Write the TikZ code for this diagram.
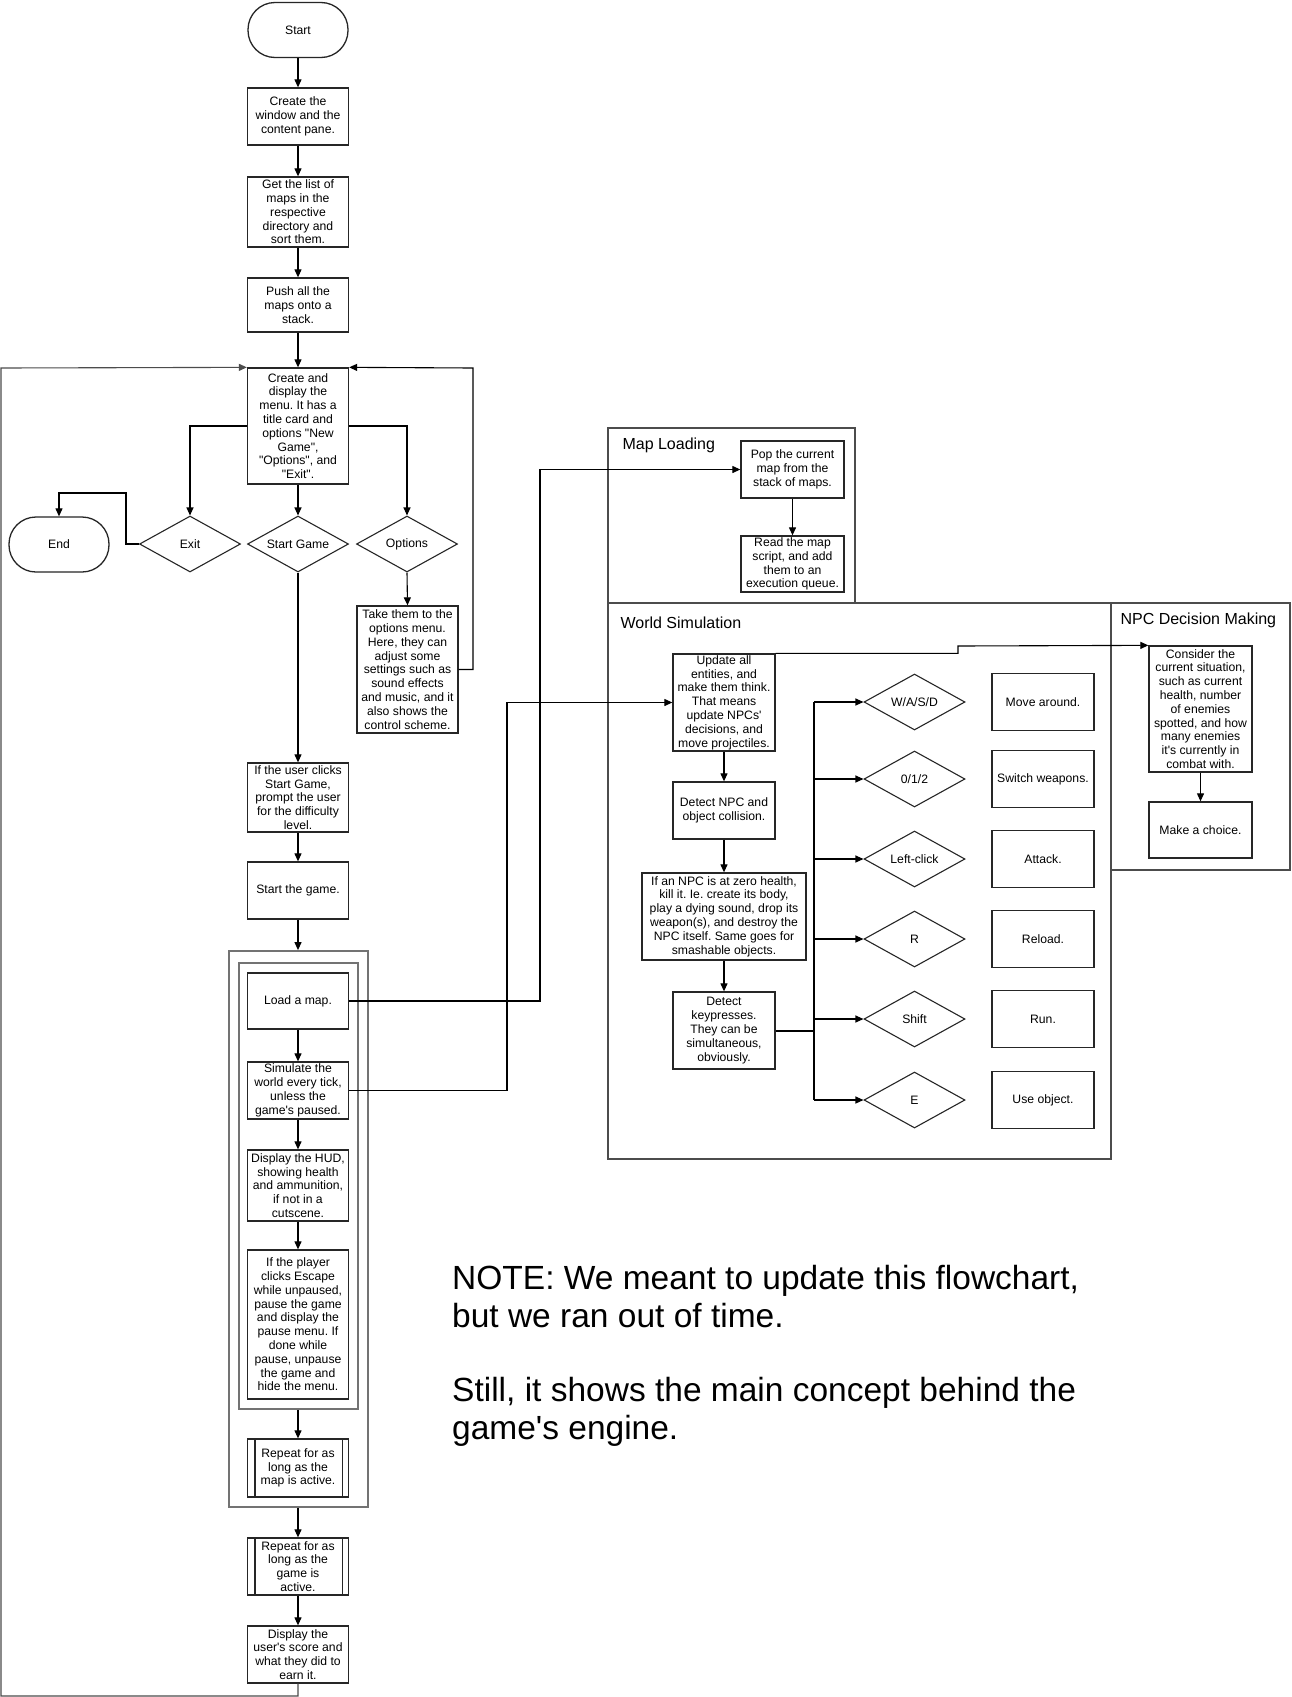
\documentclass[tikz,border=0pt]{standalone}
\usepackage{fontspec}
\newfontfamily\lab{Liberation Sans}
\usetikzlibrary{arrows.meta,shapes.geometric,calc}
\begin{document}
\frenchspacing
\begin{tikzpicture}[x=1pt,y=-1pt,
  every node/.style={font=\lab\fontsize{12.2}{13.8}\selectfont},
  arr/.style={-{Triangle[length=8pt,width=7pt]}, line width=1.1pt, draw=black},
  conn/.style={line width=1.1pt, draw=black},
  box/.style={draw=black!85, line width=1.3pt, rectangle, align=center, inner sep=1pt, minimum width=101pt},
  term/.style={draw=black!85, line width=1.3pt, rectangle, rounded corners=27pt, align=center, minimum width=100pt, minimum height=55pt},
  dec/.style={draw=black!85, line width=1.1pt, diamond, aspect=1.8, inner sep=0pt, align=center, minimum width=101pt, minimum height=56pt},
  cont/.style={draw=black!55, line width=1.8pt, rectangle, inner sep=0pt},
  frame/.style={draw=black!70, line width=1.5pt},
  flabel/.style={font=\lab\fontsize{16}{18}\selectfont, anchor=west},
  note/.style={font=\lab\fontsize{33.5}{38}\selectfont, anchor=base west, inner sep=0pt}
]
\useasboundingbox (0,0) rectangle (1292,1697);
\fill[white] (0,0) rectangle (1292,1697);

% ---------------- main column ----------------
\node[term] (start) at (298,30) {Start};
\node[box, minimum height=57pt] (win) at (298,116.5) {Create the\\window and the\\content pane.};
\node[box, minimum height=70pt] (list) at (298,212) {Get the list of\\maps in the\\respective\\directory and\\sort them.};
\node[box, minimum height=54pt] (push) at (298,305) {Push all the\\maps onto a\\stack.};
\node[box, minimum height=116pt] (menu) at (298,426) {Create and\\display the\\menu. It has a\\title card and\\options "New\\Game",\\"Options", and\\"Exit".};

\node[dec] (exit) at (190,544) {Exit};
\node[dec] (sg) at (298,544) {Start Game};
\node[dec] (opt) at (407,544) {Options};
\node[term] (endn) at (59,544.5) {End};

\node[box, minimum height=127pt] (optbox) at (407.5,669.5) {Take them to the\\options menu.\\Here, they can\\adjust some\\settings such as\\sound effects\\and music, and it\\also shows the\\control scheme.};

\node[box, minimum height=69pt] (prompt) at (298,797.5) {If the user clicks\\Start Game,\\prompt the user\\for the difficulty\\level.};
\node[box, minimum height=57pt] (sgame) at (298,890.5) {Start the game.};

\node[cont, minimum width=139pt, minimum height=556pt] (outer) at (298.5,1229) {};
\node[cont, minimum width=119pt, minimum height=446pt] (inner) at (298.5,1186) {};

\node[box, minimum height=56pt] (load) at (298,1001) {Load a map.};
\node[box, minimum height=57pt] (sim) at (298,1090.5) {Simulate the\\world every tick,\\unless the\\game's paused.};
\node[box, minimum height=71pt] (hud) at (298,1185.5) {Display the HUD,\\showing health\\and ammunition,\\if not in a\\cutscene.};
\node[box, minimum height=149pt] (esc) at (298,1324.5) {If the player\\clicks Escape\\while unpaused,\\pause the game\\and display the\\pause menu. If\\done while\\pause, unpause\\the game and\\hide the menu.};
\node[box, minimum height=58pt] (repmap) at (298,1468) {Repeat for as\\long as the\\map is active.};
\node[box, minimum height=57pt] (repgame) at (298,1566.5) {Repeat for as\\long as the\\game is\\active.};
\node[box, minimum height=57pt] (score) at (298,1654.5) {Display the\\user's score and\\what they did to\\earn it.};

\foreach \n in {repmap,repgame}{
  \draw[draw=black!85, line width=1.3pt] ($(\n.north west)+(8,0)$) -- ($(\n.south west)+(8,0)$);
  \draw[draw=black!85, line width=1.3pt] ($(\n.north east)+(-7,0)$) -- ($(\n.south east)+(-7,0)$);
}

% main column connectors
\draw[arr] (start.south) -- (win.north);
\draw[arr] (win.south) -- (list.north);
\draw[arr] (list.south) -- (push.north);
\draw[arr] (push.south) -- (menu.north);
\draw[arr] (menu.west) -| (exit.north);
\draw[arr] (menu.south) -- (sg.north);
\draw[arr] (menu.east) -| (opt.north);
\coordinate (e1) at (126,493);
\draw[arr] (exit.west) -| (e1) -| (endn.north);
\draw[arr] (opt.south) -- (optbox.north);
\coordinate (rloop) at (473,368);
\draw[arr] (optbox.east) -| (rloop) -- (menu.north east);
\draw[arr] (sg.south) -- (prompt.north);
\draw[arr] (prompt.south) -- (sgame.north);
\draw[arr] (sgame.south) -- (sgame.south |- outer.north);
\draw[arr] (load.south) -- (sim.north);
\draw[arr] (sim.south) -- (hud.north);
\draw[arr] (hud.south) -- (esc.north);
\draw[arr] (repmap.north |- inner.south) -- (repmap.north);
\draw[arr] (repgame.north |- outer.south) -- (repgame.north);
\draw[arr] (repgame.south) -- (score.north);
\coordinate (b1) at (298,1696);
\coordinate (b2) at (1,1696);
\coordinate (b3) at (1,368);
\draw[arr, draw=black!70] (score.south) -- (b1) -- (b2) -- (b3) -- (menu.north west);

% ---------------- frames ----------------
\draw[frame] (608,428) rectangle (855,603);
\draw[frame] (608,603) rectangle (1111,1159);
\draw[frame] (1111,603) rectangle (1290,870);
\node[flabel] (lmap) at (619,445) {Map Loading};
\node[flabel] (lworld) at (617,623) {World Simulation};
\node[flabel] (lnpc) at (1117,620) {NPC Decision Making};

% map loading
\node[box, minimum width=103pt, minimum height=57pt] (pop) at (792.5,469.5) {Pop the current\\map from the\\stack of maps.};
\node[box, minimum width=103pt, minimum height=56pt] (read) at (792.5,564) {Read the map\\script, and add\\them to an\\execution queue.};
\draw[arr] (pop.south) -- (read.north);

% world simulation
\node[box, minimum width=102pt, minimum height=97pt] (upd) at (724,702.5) {Update all\\entities, and\\make them think.\\That means\\update NPCs'\\decisions, and\\move projectiles.};
\node[box, minimum width=102pt, minimum height=57pt] (det) at (724,810.5) {Detect NPC and\\object collision.};
\node[box, minimum width=164pt, minimum height=87pt] (npc) at (724,916.5) {If an NPC is at zero health,\\kill it. Ie. create its body,\\play a dying sound, drop its\\weapon(s), and destroy the\\NPC itself. Same goes for\\smashable objects.};
\node[box, minimum width=102pt, minimum height=77pt] (keys) at (724,1030.5) {Detect\\keypresses.\\They can be\\simultaneous,\\obviously.};
\draw[arr] (upd.south) -- (det.north);
\draw[arr] (det.south) -- (npc.north);
\draw[arr] (npc.south) -- (keys.north);

\node[dec] (d1) at (914.5,702) {W/A/S/D};
\node[dec] (d2) at (914.5,779) {0/1/2};
\node[dec] (d3) at (914.5,859) {Left-click};
\node[dec] (d4) at (914.5,939) {R};
\node[dec] (d5) at (914.5,1019) {Shift};
\node[dec] (d6) at (914.5,1100) {E};

\node[box, minimum width=102pt, minimum height=57pt] (r1) at (1043,702) {Move around.};
\node[box, minimum width=102pt, minimum height=57pt] (r2) at (1043,779) {Switch weapons.};
\node[box, minimum width=102pt, minimum height=57pt] (r3) at (1043,859) {Attack.};
\node[box, minimum width=102pt, minimum height=57pt] (r4) at (1043,939) {Reload.};
\node[box, minimum width=102pt, minimum height=57pt] (r5) at (1043,1019) {Run.};
\node[box, minimum width=102pt, minimum height=57pt] (r6) at (1043,1100) {Use object.};

\coordinate (bus) at (814,0);
\draw[line width=2pt] (keys.east) -- (bus |- keys.east);
\draw[conn] (bus |- d1.west) -- (bus |- d6.west);
\foreach \d in {d1,d2,d3,d4,d5,d6}{
  \draw[arr] (bus |- \d.west) -- (\d.west);
}

% NPC decision making
\node[box, minimum width=103pt, minimum height=126pt] (cons) at (1200.5,709) {Consider the\\current situation,\\such as current\\health, number\\of enemies\\spotted, and how\\many enemies\\it's currently in\\combat with.};
\node[box, minimum width=103pt, minimum height=56pt] (choice) at (1200.5,830) {Make a choice.};
\draw[arr] (cons.south) -- (choice.north);

% cross connectors
\coordinate (c1) at (540,469.5);
\draw[arr] (load.east) -| (c1) -- (pop.west);
\coordinate (c2) at (507,702.5);
\draw[arr] (sim.east) -| (c2) -- (upd.west);
\coordinate (c3) at (958,646);
\draw[arr] (upd.north east) -| (c3) -- (cons.north west);

% note
\node[note] (n1) at (452,1289) {NOTE: We meant to update this flowchart,};
\node[note] (n2) at (452,1327) {but we ran out of time.};
\node[note] (n3) at (452,1401) {Still, it shows the main concept behind the};
\node[note] (n4) at (452,1439) {game's engine.};
\end{tikzpicture}
\end{document}
